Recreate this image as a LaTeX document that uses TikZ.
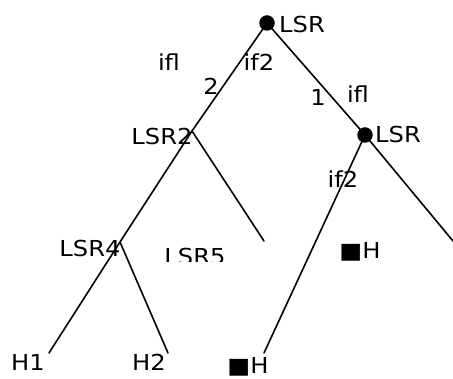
\documentclass[tikz,border=0pt]{standalone}
\usepackage{fontspec}
\newfontfamily\lblfont[FakeStretch=1.1]{DejaVu Sans}
\begin{document}
\begin{tikzpicture}[x=1pt,y=-1pt,
  edge/.style={line width=1.6pt, line cap=round},
  dot/.style={circle, fill=black, inner sep=0pt, minimum size=15.5pt},
  lbl/.style={inner sep=0pt, font=\lblfont\fontsize{22}{22}\selectfont}]
\useasboundingbox (0,0) rectangle (453,379);

% branching points of the tree
\node[dot] (root) at (267,23) {};
\node[dot] (rnode) at (365,135) {};
\coordinate (lsr2) at (192,131);
\coordinate (lsr4) at (120,242);
\coordinate (lsr2end) at (264,241);
\coordinate (h1end) at (49,353);
\coordinate (h2end) at (168,353);
\coordinate (rend) at (453,241);
\coordinate (hend) at (264,353);

% edges
\draw[edge] (root.center) -- (lsr2) -- (lsr4) -- (h1end);
\draw[edge] (lsr2) -- (lsr2end);
\draw[edge] (lsr4) -- (h2end);
\draw[edge] (root.center) -- (rnode.center) -- (rend);
\draw[edge] (rnode.center) -- (hend);

% labels
\node[lbl] (tRoot) at (302,24) {LSR};
\node[lbl] (tIfA) at (169,62) {ifl};
\node[lbl] (tIfB) at (259,62) {if2};
\node[lbl] (tTwo) at (211,86) {2};
\node[lbl] (tOne) at (318,97) {1};
\node[lbl] (tIfC) at (358,94) {ifl};
\node[lbl] (tR) at (398,134) {LSR};
\node[lbl] (tLsr2) at (162,136) {LSR2};
\node[lbl] (tIfD) at (343,179) {if2};
\node[lbl] (tLsr4) at (90,248) {LSR4};
\begin{scope}
  \clip (150,240) rectangle (240,262);
  \node[lbl] (tLsr5) at (195,256) {LSR5};
\end{scope}
\node[lbl] (tHr) at (360,252) {■H};
\node[lbl] (tHb) at (248,367) {■H};
\node[lbl] (tH1) at (28,362) {H1};
\node[lbl] (tH2) at (149,362) {H2};
\end{tikzpicture}
\end{document}
